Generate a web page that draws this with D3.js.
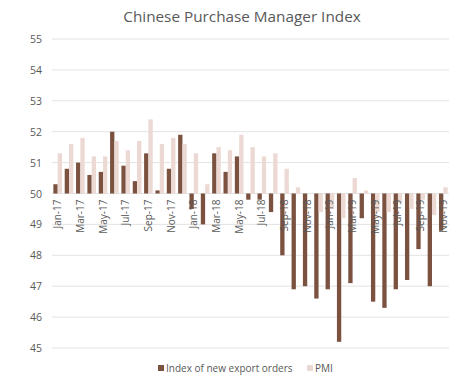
<!DOCTYPE html>
<meta charset="utf-8">
<style>
body { margin: 0; background: #fff; }
svg text { font-family: "Open Sans", sans-serif; fill: #595959; }
</style>
<body>
<script src="https://d3js.org/d3.v7.min.js"></script>
<script>

// months Jan-17 .. Nov-19
var months = ["Jan-17","Feb-17","Mar-17","Apr-17","May-17","Jun-17","Jul-17","Aug-17","Sep-17","Oct-17","Nov-17","Dec-17",
              "Jan-18","Feb-18","Mar-18","Apr-18","May-18","Jun-18","Jul-18","Aug-18","Sep-18","Oct-18","Nov-18","Dec-18",
              "Jan-19","Feb-19","Mar-19","Apr-19","May-19","Jun-19","Jul-19","Aug-19","Sep-19","Oct-19","Nov-19"];

var exportOrders = [50.3,50.8,51.0,50.6,50.7,52.0,50.9,50.4,51.3,50.1,50.8,51.9,
                    49.5,49.0,51.3,50.7,51.2,49.8,49.8,49.4,48.0,46.9,47.0,46.6,
                    46.9,45.2,47.1,49.2,46.5,46.3,46.9,47.2,48.2,47.0,48.8];

var pmi = [51.3,51.6,51.8,51.2,51.2,51.7,51.4,51.7,52.4,51.6,51.8,51.6,
           51.3,50.3,51.5,51.4,51.9,51.5,51.2,51.3,50.8,50.2,50.0,49.4,
           49.5,49.2,50.5,50.1,49.4,49.4,49.7,49.5,49.8,49.3,50.2];

var seriesNames = ["Index of new export orders", "PMI"];
var colors = ["#7b5140", "#ecd9d3"];
var yTicks = [45,46,47,48,49,50,51,52,53,54,55];

var w = 475, h = 384;
var plotLeft = 52, plotRight = 449, plotTop = 39, plotBottom = 348;
var base = 50;

var svg = d3.select("body").append("svg")
    .attr("width", w)
    .attr("height", h);

var x = d3.scaleBand()
    .domain(months)
    .range([plotLeft, plotRight])
    .paddingInner(0.24)
    .paddingOuter(0.12);

var xs = d3.scaleBand()
    .domain([0, 1])
    .range([0, x.bandwidth()]);

var y = d3.scaleLinear()
    .domain([45, 55])
    .range([plotBottom, plotTop]);

// title
svg.append("text")
    .attr("x", 242)
    .attr("y", 22)
    .attr("text-anchor", "middle")
    .attr("font-size", "15.3px")
    .text("Chinese Purchase Manager Index");

// gridlines
svg.selectAll("line.grid")
   .data(yTicks)
   .enter()
   .append("line")
   .attr("class", "grid")
   .attr("x1", plotLeft)
   .attr("x2", plotRight)
   .attr("y1", function(d) { return y(d); })
   .attr("y2", function(d) { return y(d); })
   .attr("stroke", "#e3e3e3")
   .attr("stroke-width", 1);

// y labels
svg.selectAll("text.ytick")
   .data(yTicks)
   .enter()
   .append("text")
   .attr("class", "ytick")
   .attr("x", 42)
   .attr("y", function(d) { return y(d) + 4; })
   .attr("text-anchor", "end")
   .attr("font-size", "10.5px")
   .text(function(d) { return d; });

// bars
var all = [exportOrders, pmi];
all.forEach(function(vals, s) {
  svg.selectAll("rect.s" + s)
     .data(vals)
     .enter()
     .append("rect")
     .attr("class", "s" + s)
     .attr("x", function(d, i) { return x(months[i]) + xs(s); })
     .attr("width", xs.bandwidth())
     .attr("y", function(d) { return y(Math.max(d, base)); })
     .attr("height", function(d) { return Math.abs(y(d) - y(base)); })
     .attr("fill", colors[s]);
});

// month labels, every other one
svg.selectAll("text.xtick")
   .data(months.filter(function(d, i) { return i % 2 == 0; }))
   .enter()
   .append("text")
   .attr("class", "xtick")
   .attr("transform", function(d) {
       return "translate(" + (x(d) + x.bandwidth() / 2 + 3.5) + "," + (y(base) + 6) + ") rotate(-90)";
   })
   .attr("text-anchor", "end")
   .attr("font-size", "10px")
   .text(function(d) { return d; });

// legend
var legX = [158, 307];
seriesNames.forEach(function(name, s) {
  svg.append("rect")
     .attr("x", legX[s])
     .attr("y", 365)
     .attr("width", 6)
     .attr("height", 6)
     .attr("fill", colors[s]);
  svg.append("text")
     .attr("x", legX[s] + 8)
     .attr("y", 372)
     .attr("font-size", "10px")
     .text(name);
});

</script>
</body>
